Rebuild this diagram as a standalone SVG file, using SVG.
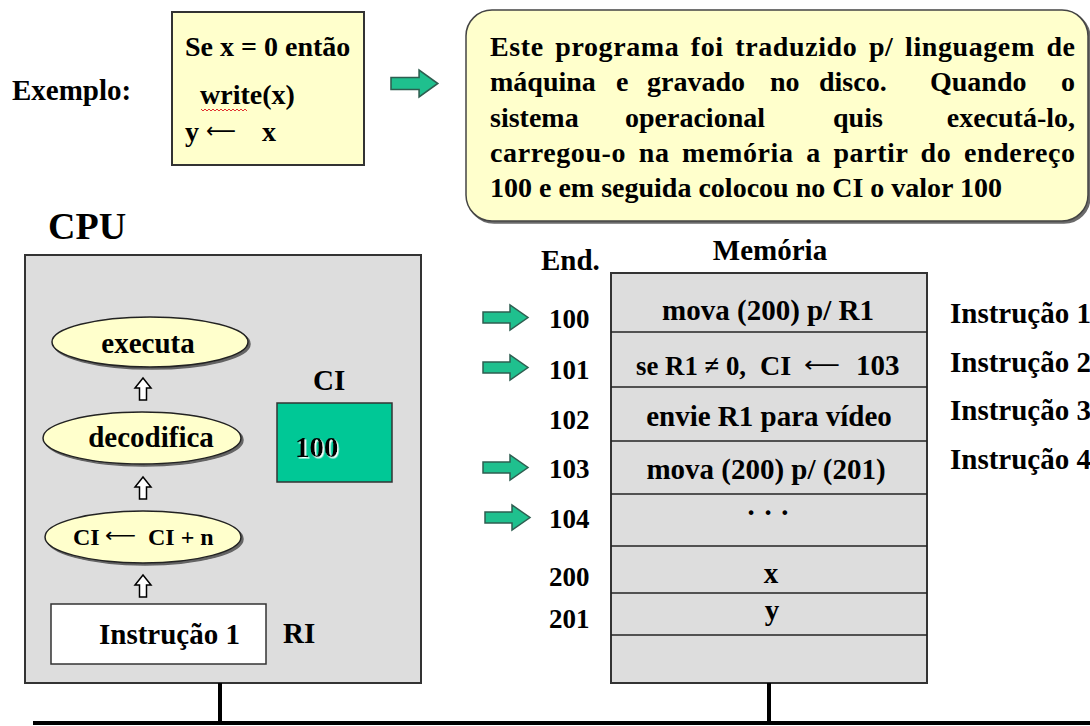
<svg xmlns="http://www.w3.org/2000/svg" width="1090" height="726" viewBox="0 0 1090 726">
<style>
.t{font-family:"Liberation Serif","Times New Roman",serif;font-weight:bold;fill:#000}
.ar{font-family:"DejaVu Sans",sans-serif;font-weight:normal;fill:#000}
.f28{font-size:28px}
.f29{font-size:29px}
.f27{font-size:27px}
.f24{font-size:24px}
.mid{text-anchor:middle}
.end{text-anchor:end}
.box{fill:#DDDDDD;stroke:#333;stroke-width:2}
.note{fill:#FFFFCC;stroke:#333;stroke-width:2}
.ell{fill:#FFFFCC;stroke:#222;stroke-width:1.5;filter:url(#sh)}
.garrow{fill:#1FC08E;stroke:#2E5E50;stroke-width:1.5}
.uarrow{fill:#FFFFFF;stroke:#000;stroke-width:1.5}
.bus{stroke:#000;stroke-width:4;fill:none}
.row{stroke:#222;stroke-width:1.5}
</style>
<defs>
<filter id="sh" x="-10%" y="-10%" width="125%" height="130%">
<feDropShadow dx="2" dy="2" stdDeviation="0.6" flood-color="#444" flood-opacity="0.8"/>
</filter>
<filter id="wsh" x="-10%" y="-10%" width="130%" height="140%">
<feDropShadow dx="1.5" dy="1.5" stdDeviation="0.3" flood-color="#FFFFFF" flood-opacity="1"/>
</filter>
<path id="ga" d="M0,7 H27 V0 L45,12.5 L27,25 V18 H0 Z"/>
<path id="ua" d="M4.5,22 V10 H0 L8,0 L16,10 H11.5 V22 Z"/>
</defs>

<g id="exemplo">
<text class="t f29" x="12" y="100">Exemplo:</text>
</g>

<g id="code">
<rect class="note" x="172" y="12" width="192" height="153"/>
<text class="t f28" x="185" y="56">Se x = 0 então</text>
<text class="t f28" x="200" y="104">write(x)</text>
<path d="M201,109 l2,2 l2,-2 l2,2 l2,-2 l2,2 l2,-2 l2,2 l2,-2 l2,2 l2,-2 l2,2 l2,-2 l2,2 l2,-2 l2,2 l2,-2 l2,2 l2,-2 l2,2 l2,-2 l2,2 l2,-2 l2,2" fill="none" stroke="#E03030" stroke-width="1"/>
<text class="t f28" x="185" y="141">y</text>
<text class="ar" x="206" y="138" style="font-size:22px" textLength="30" lengthAdjust="spacingAndGlyphs">⟵</text>
<text class="t f28" x="262" y="141">x</text>
</g>

<g id="top-arrow">
<use href="#ga" class="garrow" transform="translate(391,70) scale(1.04,1.08)"/>
</g>

<g id="note">
<rect x="466" y="10" width="622" height="211" rx="26" ry="26" fill="#FFFFCC" stroke="#444" stroke-width="1.5" filter="url(#sh)"/>
<text class="t f28" x="490" y="56" style="word-spacing:4px" textLength="585" lengthAdjust="spacing">Este programa foi traduzido p/ linguagem de</text>
<text class="t f28" y="91"><tspan x="490">máquina</tspan><tspan x="616">e</tspan><tspan x="647">gravado</tspan><tspan x="770">no</tspan><tspan x="819">disco.</tspan><tspan x="930">Quando</tspan></text>
<text class="t f28 end" x="1075" y="91">o</text>
<text class="t f28" y="127"><tspan x="490">sistema</tspan><tspan x="625">operacional</tspan><tspan x="833">quis</tspan></text>
<text class="t f28 end" x="1075" y="127">executá-lo,</text>
<text class="t f28" x="490" y="162" style="word-spacing:5px" textLength="585" lengthAdjust="spacing">carregou-o na memória a partir do endereço</text>
<text class="t f28" x="490" y="197">100 e em seguida colocou no CI o valor 100</text>
</g>

<g id="cpu">
<text class="t" x="48" y="239" style="font-size:38px">CPU</text>
<rect class="box" x="25" y="255" width="396" height="428"/>
</g>

<g id="executa">
<ellipse class="ell" cx="150" cy="342" rx="98" ry="25"/>
<text class="t f29 mid" x="148" y="353">executa</text>
</g>

<g id="decodifica">
<ellipse class="ell" cx="142" cy="438" rx="99" ry="26"/>
<text class="t f29 mid" x="151" y="447">decodifica</text>
</g>

<g id="incrementa">
<ellipse class="ell" cx="143" cy="537" rx="98" ry="26"/>
<text class="t f24" x="73" y="545">CI</text>
<text class="ar" x="105" y="542" style="font-size:20px" textLength="31" lengthAdjust="spacingAndGlyphs">⟵</text>
<text class="t f24" x="148" y="545">CI + n</text>
</g>

<g id="ci">
<text class="t f29" x="313" y="390">CI</text>
<rect x="277" y="403" width="115" height="79" fill="#00C896" stroke="#333" stroke-width="1.5"/>
<text class="t f29" x="295" y="457" filter="url(#wsh)">100</text>
</g>

<g id="ri">
<rect x="51" y="604" width="215" height="60" fill="#FFFFFF" stroke="#333" stroke-width="1.5"/>
<text class="t f29" x="99" y="644">Instrução 1</text>
<text class="t f29" x="283" y="643">RI</text>
</g>

<g id="memoria">
<text class="t f29" x="541" y="270">End.</text>
<text class="t f29 mid" x="770" y="260">Memória</text>
<rect class="box" x="611" y="273" width="316" height="410"/>
<line class="row" x1="611" y1="332" x2="927" y2="332"/>
<line class="row" x1="611" y1="387" x2="927" y2="387"/>
<line class="row" x1="611" y1="441" x2="927" y2="441"/>
<line class="row" x1="611" y1="494" x2="927" y2="494"/>
<line class="row" x1="611" y1="546" x2="927" y2="546"/>
<line class="row" x1="611" y1="593" x2="927" y2="593"/>
<line class="row" x1="611" y1="635" x2="927" y2="635"/>
<text class="t f29 mid" x="768" y="320">mova (200) p/ R1</text>
<text class="t f28" x="636" y="375" textLength="110" lengthAdjust="spacingAndGlyphs">se R1 ≠ 0,</text>
<text class="t f28" x="760" y="375">CI</text>
<text class="ar" x="804" y="372" style="font-size:22px" textLength="36" lengthAdjust="spacingAndGlyphs">⟵</text>
<text class="t f29" x="856" y="375">103</text>
<text class="t f29 mid" x="769" y="426">envie R1 para vídeo</text>
<text class="t f29 mid" x="766" y="479">mova (200) p/ (201)</text>
<text class="t f29 mid" x="768" y="522">· · ·</text>
<text class="t f29 mid" x="771" y="583">x</text>
<text class="t f29 mid" x="772" y="620">y</text>
</g>

<g id="enderecos">
<text class="t f27" x="549" y="328">100</text>
<text class="t f27" x="549" y="379">101</text>
<text class="t f27" x="549" y="429">102</text>
<text class="t f27" x="549" y="478">103</text>
<text class="t f27" x="549" y="528">104</text>
<text class="t f27" x="549" y="586">200</text>
<text class="t f27" x="549" y="628">201</text>
</g>

<g id="instrucoes">
<text class="t f29" x="950" y="323">Instrução 1</text>
<text class="t f29" x="950" y="372">Instrução 2</text>
<text class="t f29" x="950" y="420">Instrução 3</text>
<text class="t f29" x="950" y="469">Instrução 4</text>
</g>

<g id="connectors">
<use href="#ua" class="uarrow" x="135" y="378"/>
<use href="#ua" class="uarrow" x="135" y="477"/>
<use href="#ua" class="uarrow" x="135" y="575"/>
<use href="#ga" class="garrow" x="483" y="305"/>
<use href="#ga" class="garrow" x="483" y="355"/>
<use href="#ga" class="garrow" x="483" y="455"/>
<use href="#ga" class="garrow" x="485" y="505"/>
<line class="bus" x1="33" y1="723" x2="1090" y2="723"/>
<line class="bus" x1="220" y1="683" x2="220" y2="723"/>
<line class="bus" x1="769" y1="683" x2="769" y2="723"/>
</g>
</svg>
